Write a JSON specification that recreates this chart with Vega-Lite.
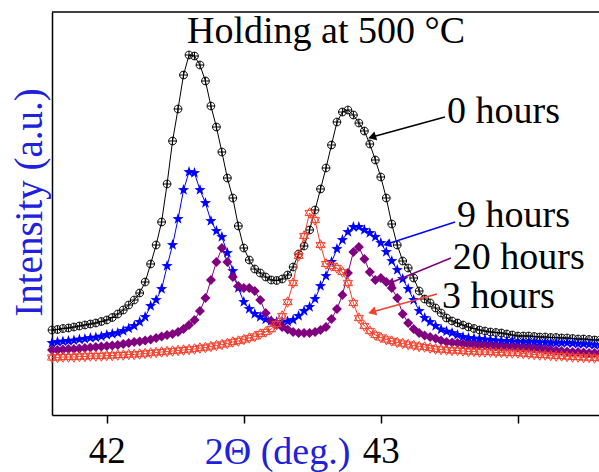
{
"$schema":"https://vega.github.io/schema/vega-lite/v6.json",
"width":548,"height":403,
"autosize":{"type":"none"},
"padding":{"left":52,"top":12,"right":0,"bottom":57},
"background":"white",
"config":{
 "view":{"stroke":null},
 "font":"Liberation Serif",
 "axisX":{"domainColor":"black","domainWidth":1.5,"tickColor":"black","tickWidth":1.5,"tickSize":8,"grid":false,"labelFont":"Liberation Serif","labelFontSize":37,"labelColor":"black","labelBaseline":"alphabetic","labelPadding":39,"labelFlush":false,"titleFont":"Liberation Serif","titleFontSize":38,"titleFontWeight":"normal","titleColor":"#2020dd","titleX":225,"titleY":48,"titleBaseline":"alphabetic","titleAlign":"center"},
 "axisY":{"domainColor":"black","domainWidth":1.5,"ticks":false,"labels":false,"grid":false,"titleFont":"Liberation Serif","titleFontSize":39,"titleFontWeight":"normal","titleColor":"#2020dd","titleX":-11,"titleY":190,"titleAngle":270,"titleBaseline":"alphabetic","titleAlign":"center"}
},
"datasets":{
"xrd":[
{"x":41.80,"0 hours":85,"3 hours":57.5,"9 hours":72,"20 hours":65},
{"x":41.82,"0 hours":85.5,"3 hours":57.5,"9 hours":73,"20 hours":65},
{"x":41.84,"0 hours":86.5,"3 hours":58,"9 hours":73.5,"20 hours":65.5},
{"x":41.86,"0 hours":87,"3 hours":58,"9 hours":74,"20 hours":66},
{"x":41.88,"0 hours":88,"3 hours":58,"9 hours":74.5,"20 hours":66},
{"x":41.90,"0 hours":89,"3 hours":58.5,"9 hours":75.5,"20 hours":66.5},
{"x":41.92,"0 hours":90,"3 hours":58.5,"9 hours":76,"20 hours":67},
{"x":41.94,"0 hours":91,"3 hours":59,"9 hours":77,"20 hours":67.5},
{"x":41.96,"0 hours":92,"3 hours":59,"9 hours":77.5,"20 hours":68},
{"x":41.98,"0 hours":93.5,"3 hours":59,"9 hours":78.5,"20 hours":68.5},
{"x":42.00,"0 hours":95,"3 hours":59.5,"9 hours":80,"20 hours":69},
{"x":42.02,"0 hours":97.5,"3 hours":59.5,"9 hours":81,"20 hours":69.5},
{"x":42.04,"0 hours":101,"3 hours":60,"9 hours":82,"20 hours":70},
{"x":42.06,"0 hours":105,"3 hours":60,"9 hours":84,"20 hours":71},
{"x":42.08,"0 hours":110,"3 hours":60.5,"9 hours":86.5,"20 hours":72},
{"x":42.10,"0 hours":115,"3 hours":60.5,"9 hours":89,"20 hours":73},
{"x":42.12,"0 hours":122,"3 hours":61,"9 hours":93,"20 hours":73.5},
{"x":42.14,"0 hours":133,"3 hours":61.5,"9 hours":98,"20 hours":74.5},
{"x":42.16,"0 hours":151,"3 hours":62,"9 hours":109,"20 hours":75.5},
{"x":42.18,"0 hours":170,"3 hours":62.5,"9 hours":115,"20 hours":77},
{"x":42.20,"0 hours":193,"3 hours":63,"9 hours":126,"20 hours":78.5},
{"x":42.22,"0 hours":231,"3 hours":63.5,"9 hours":149,"20 hours":80},
{"x":42.24,"0 hours":274,"3 hours":64,"9 hours":170,"20 hours":81},
{"x":42.26,"0 hours":306,"3 hours":64.5,"9 hours":196,"20 hours":83},
{"x":42.28,"0 hours":340,"3 hours":65,"9 hours":225,"20 hours":86},
{"x":42.30,"0 hours":360,"3 hours":65.5,"9 hours":243,"20 hours":90},
{"x":42.32,"0 hours":359,"3 hours":66,"9 hours":242,"20 hours":95},
{"x":42.34,"0 hours":350,"3 hours":67,"9 hours":225,"20 hours":104},
{"x":42.36,"0 hours":334,"3 hours":67.5,"9 hours":212,"20 hours":117},
{"x":42.38,"0 hours":309,"3 hours":68.5,"9 hours":194,"20 hours":135},
{"x":42.40,"0 hours":288,"3 hours":69.5,"9 hours":184,"20 hours":153},
{"x":42.42,"0 hours":263,"3 hours":70.5,"9 hours":178,"20 hours":167},
{"x":42.44,"0 hours":237,"3 hours":71.5,"9 hours":162,"20 hours":153},
{"x":42.46,"0 hours":217,"3 hours":73,"9 hours":144,"20 hours":138},
{"x":42.48,"0 hours":189,"3 hours":74,"9 hours":127,"20 hours":129},
{"x":42.50,"0 hours":167,"3 hours":75.5,"9 hours":113,"20 hours":127},
{"x":42.52,"0 hours":155,"3 hours":77,"9 hours":106,"20 hours":127},
{"x":42.54,"0 hours":146,"3 hours":78.5,"9 hours":101,"20 hours":124},
{"x":42.56,"0 hours":142,"3 hours":81,"9 hours":98,"20 hours":115},
{"x":42.58,"0 hours":138,"3 hours":83,"9 hours":95.5,"20 hours":102},
{"x":42.60,"0 hours":135,"3 hours":86,"9 hours":94,"20 hours":94},
{"x":42.62,"0 hours":134.5,"3 hours":91,"9 hours":93,"20 hours":90},
{"x":42.64,"0 hours":136,"3 hours":99,"9 hours":93,"20 hours":88},
{"x":42.66,"0 hours":140,"3 hours":113,"9 hours":93.5,"20 hours":85.5},
{"x":42.68,"0 hours":148,"3 hours":132,"9 hours":95,"20 hours":83},
{"x":42.70,"0 hours":161,"3 hours":159,"9 hours":99,"20 hours":82},
{"x":42.72,"0 hours":169,"3 hours":179,"9 hours":104,"20 hours":82},
{"x":42.74,"0 hours":185,"3 hours":202,"9 hours":108,"20 hours":82},
{"x":42.76,"0 hours":205,"3 hours":195,"9 hours":116,"20 hours":83},
{"x":42.78,"0 hours":226,"3 hours":170,"9 hours":129,"20 hours":85},
{"x":42.80,"0 hours":247,"3 hours":151,"9 hours":139,"20 hours":88},
{"x":42.82,"0 hours":270,"3 hours":149,"9 hours":153,"20 hours":96},
{"x":42.84,"0 hours":293,"3 hours":147,"9 hours":166,"20 hours":106},
{"x":42.86,"0 hours":303,"3 hours":143,"9 hours":175,"20 hours":120},
{"x":42.88,"0 hours":305,"3 hours":132,"9 hours":183,"20 hours":142},
{"x":42.90,"0 hours":300,"3 hours":112,"9 hours":188,"20 hours":163},
{"x":42.92,"0 hours":292,"3 hours":97,"9 hours":188,"20 hours":168},
{"x":42.94,"0 hours":284,"3 hours":89,"9 hours":185,"20 hours":156},
{"x":42.96,"0 hours":271,"3 hours":84,"9 hours":182,"20 hours":143},
{"x":42.98,"0 hours":255,"3 hours":80,"9 hours":178,"20 hours":135},
{"x":43.00,"0 hours":238,"3 hours":77.5,"9 hours":172,"20 hours":137},
{"x":43.02,"0 hours":217,"3 hours":75.5,"9 hours":163,"20 hours":133},
{"x":43.04,"0 hours":191,"3 hours":74,"9 hours":154,"20 hours":127},
{"x":43.06,"0 hours":170,"3 hours":72.5,"9 hours":145,"20 hours":117},
{"x":43.08,"0 hours":154,"3 hours":71.5,"9 hours":136,"20 hours":101},
{"x":43.10,"0 hours":147,"3 hours":70.5,"9 hours":126,"20 hours":92},
{"x":43.12,"0 hours":137,"3 hours":69.5,"9 hours":115,"20 hours":86},
{"x":43.14,"0 hours":124,"3 hours":68.5,"9 hours":104,"20 hours":82},
{"x":43.16,"0 hours":116,"3 hours":68,"9 hours":97,"20 hours":79.5},
{"x":43.18,"0 hours":112,"3 hours":67,"9 hours":93,"20 hours":78},
{"x":43.20,"0 hours":107,"3 hours":66,"9 hours":89,"20 hours":76.5},
{"x":43.22,"0 hours":102,"3 hours":65.5,"9 hours":85.5,"20 hours":74.5},
{"x":43.24,"0 hours":97,"3 hours":65,"9 hours":83.5,"20 hours":73},
{"x":43.26,"0 hours":94,"3 hours":64.5,"9 hours":82,"20 hours":72.5},
{"x":43.28,"0 hours":92,"3 hours":64.5,"9 hours":80,"20 hours":72},
{"x":43.30,"0 hours":90,"3 hours":64,"9 hours":78,"20 hours":71},
{"x":43.32,"0 hours":88,"3 hours":63.5,"9 hours":77,"20 hours":70.5},
{"x":43.34,"0 hours":86.5,"3 hours":63.5,"9 hours":76.5,"20 hours":70},
{"x":43.36,"0 hours":85,"3 hours":63,"9 hours":76,"20 hours":69.5},
{"x":43.38,"0 hours":84,"3 hours":63,"9 hours":75.5,"20 hours":69.5},
{"x":43.40,"0 hours":83,"3 hours":63,"9 hours":75,"20 hours":69},
{"x":43.42,"0 hours":82.5,"3 hours":62.5,"9 hours":74.5,"20 hours":68.5},
{"x":43.44,"0 hours":82,"3 hours":62.5,"9 hours":74,"20 hours":68},
{"x":43.46,"0 hours":81,"3 hours":62,"9 hours":74,"20 hours":68},
{"x":43.48,"0 hours":80,"3 hours":62,"9 hours":73.5,"20 hours":68},
{"x":43.50,"0 hours":79,"3 hours":62,"9 hours":73,"20 hours":67.5},
{"x":43.52,"0 hours":79,"3 hours":61.5,"9 hours":73,"20 hours":67},
{"x":43.54,"0 hours":79,"3 hours":61,"9 hours":73,"20 hours":67},
{"x":43.56,"0 hours":78.5,"3 hours":60.5,"9 hours":73,"20 hours":66.5},
{"x":43.58,"0 hours":78,"3 hours":60,"9 hours":72.5,"20 hours":66},
{"x":43.60,"0 hours":78,"3 hours":60,"9 hours":72.5,"20 hours":65.5},
{"x":43.62,"0 hours":77.5,"3 hours":59.5,"9 hours":72,"20 hours":65},
{"x":43.64,"0 hours":77.5,"3 hours":59,"9 hours":72,"20 hours":64.5},
{"x":43.66,"0 hours":77,"3 hours":59,"9 hours":72,"20 hours":64},
{"x":43.68,"0 hours":77,"3 hours":58.5,"9 hours":72,"20 hours":63.5},
{"x":43.70,"0 hours":76.5,"3 hours":58,"9 hours":71.5,"20 hours":63},
{"x":43.72,"0 hours":76,"3 hours":58,"9 hours":71,"20 hours":63},
{"x":43.74,"0 hours":76,"3 hours":57.5,"9 hours":71,"20 hours":62.5},
{"x":43.76,"0 hours":75.5,"3 hours":57.5,"9 hours":70.5,"20 hours":62},
{"x":43.78,"0 hours":75,"3 hours":57,"9 hours":70,"20 hours":62},
{"x":43.80,"0 hours":75,"3 hours":57,"9 hours":70,"20 hours":62}
],
"notes":[
{"t":"0 hours","series":"0 hours","tx":43.242,"ty":292,"x1":43.234,"y1":298,"x2":42.968,"y2":278},
{"t":"9 hours","series":"9 hours","tx":43.278,"ty":188,"x1":43.271,"y1":193,"x2":43.023,"y2":171},
{"t":"20 hours","series":"20 hours","tx":43.263,"ty":146,"x1":43.256,"y1":157,"x2":43.034,"y2":132},
{"t":"3 hours","series":"3 hours","tx":43.223,"ty":107,"x1":43.205,"y1":121,"x2":42.968,"y2":103}
]
},
"layer":[
{"data":{"name":"xrd"},
 "transform":[{"fold":["0 hours","3 hours","9 hours","20 hours"],"as":["series","I"]},{"filter":"datum.series === '0 hours'"}],
 "mark":{"type":"line","strokeWidth":1},
 "encoding":{
  "x":{"field":"x","type":"quantitative","title":"2Θ (deg.)","scale":{"domain":[41.8,43.8],"nice":false,"zero":false},"axis":{"values":[42,42.5,43,43.5],"labelExpr":"datum.value % 1 ? '' : '' + datum.value"}},
  "y":{"field":"I","type":"quantitative","title":"Intensity (a.u.)","scale":{"domain":[0,403],"nice":false,"zero":false}},
  "color":{"field":"series","type":"nominal","scale":{"domain":["0 hours","3 hours","9 hours","20 hours"],"range":["#000000","#f5402c","#0000ff","#800080"]},"legend":null}}},
{"data":{"name":"xrd"},
 "transform":[{"fold":["0 hours","3 hours","9 hours","20 hours"],"as":["series","I"]},{"filter":"datum.series === '0 hours'"}],
 "mark":{"type":"point","shape":"M1,0L0.924,0.383L0.707,0.707L0.383,0.924L0,1L-0.383,0.924L-0.707,0.707L-0.924,0.383L-1,0L-0.924,-0.383L-0.707,-0.707L-0.383,-0.924L0,-1L0.383,-0.924L0.707,-0.707L0.924,-0.383ZM-1,0L1,0M0,-1L0,1","filled":false,"size":60,"strokeWidth":1,"opacity":1},
 "encoding":{"x":{"field":"x","type":"quantitative","title":"2Θ (deg.)"},"y":{"field":"I","type":"quantitative","title":"Intensity (a.u.)"},"color":{"field":"series","type":"nominal","legend":null}}},
{"data":{"name":"xrd"},
 "transform":[{"fold":["0 hours","3 hours","9 hours","20 hours"],"as":["series","I"]},{"filter":"datum.series === '9 hours'"}],
 "mark":{"type":"line","strokeWidth":1},
 "encoding":{"x":{"field":"x","type":"quantitative","title":"2Θ (deg.)"},"y":{"field":"I","type":"quantitative","title":"Intensity (a.u.)"},"color":{"field":"series","type":"nominal","legend":null}}},
{"data":{"name":"xrd"},
 "transform":[{"fold":["0 hours","3 hours","9 hours","20 hours"],"as":["series","I"]},{"filter":"datum.series === '9 hours'"}],
 "mark":{"type":"point","shape":"M0,-1L0.235,-0.324L0.951,-0.309L0.38,0.124L0.588,0.809L0,0.4L-0.588,0.809L-0.38,0.124L-0.951,-0.309L-0.235,-0.324Z","filled":true,"size":140,"opacity":1},
 "encoding":{"x":{"field":"x","type":"quantitative","title":"2Θ (deg.)"},"y":{"field":"I","type":"quantitative","title":"Intensity (a.u.)"},"color":{"field":"series","type":"nominal","legend":null}}},
{"data":{"name":"xrd"},
 "transform":[{"fold":["0 hours","3 hours","9 hours","20 hours"],"as":["series","I"]},{"filter":"datum.series === '20 hours'"}],
 "mark":{"type":"line","strokeWidth":1},
 "encoding":{"x":{"field":"x","type":"quantitative","title":"2Θ (deg.)"},"y":{"field":"I","type":"quantitative","title":"Intensity (a.u.)"},"color":{"field":"series","type":"nominal","legend":null}}},
{"data":{"name":"xrd"},
 "transform":[{"fold":["0 hours","3 hours","9 hours","20 hours"],"as":["series","I"]},{"filter":"datum.series === '20 hours'"}],
 "mark":{"type":"point","shape":"diamond","filled":true,"size":100,"opacity":1},
 "encoding":{"x":{"field":"x","type":"quantitative","title":"2Θ (deg.)"},"y":{"field":"I","type":"quantitative","title":"Intensity (a.u.)"},"color":{"field":"series","type":"nominal","legend":null}}},
{"data":{"name":"xrd"},
 "transform":[{"fold":["0 hours","3 hours","9 hours","20 hours"],"as":["series","I"]},{"filter":"datum.series === '3 hours'"}],
 "mark":{"type":"line","strokeWidth":1},
 "encoding":{"x":{"field":"x","type":"quantitative","title":"2Θ (deg.)"},"y":{"field":"I","type":"quantitative","title":"Intensity (a.u.)"},"color":{"field":"series","type":"nominal","legend":null}}},
{"data":{"name":"xrd"},
 "transform":[{"fold":["0 hours","3 hours","9 hours","20 hours"],"as":["series","I"]},{"filter":"datum.series === '3 hours'"}],
 "mark":{"type":"point","shape":"M0,-1L0.866,0.5L-0.866,0.5ZM0,1L0.866,-0.5L-0.866,-0.5Z","filled":false,"size":110,"strokeWidth":1,"opacity":1},
 "encoding":{"x":{"field":"x","type":"quantitative","title":"2Θ (deg.)"},"y":{"field":"I","type":"quantitative","title":"Intensity (a.u.)"},"color":{"field":"series","type":"nominal","legend":null}}},
{"data":{"values":[{"v":403}]},
 "mark":{"type":"rule","color":"black","strokeWidth":1.5},
 "encoding":{"y":{"field":"v","type":"quantitative","title":"Intensity (a.u.)"}}},
{"data":{"name":"notes"},
 "mark":{"type":"rule","strokeWidth":1.5},
 "encoding":{"x":{"field":"x1","type":"quantitative","title":"2Θ (deg.)"},"x2":{"field":"x2"},"y":{"field":"y1","type":"quantitative","title":"Intensity (a.u.)"},"y2":{"field":"y2"},"color":{"field":"series","type":"nominal","legend":null}}},
{"data":{"name":"notes"},
 "mark":{"type":"point","shape":"triangle-up","filled":true,"size":85,"angle":252,"opacity":1},
 "encoding":{"x":{"field":"x2","type":"quantitative","title":"2Θ (deg.)"},"y":{"field":"y2","type":"quantitative","title":"Intensity (a.u.)"},"color":{"field":"series","type":"nominal","legend":null}}},
{"data":{"name":"notes"},
 "mark":{"type":"text","align":"left","baseline":"alphabetic","font":"Liberation Serif","fontSize":38,"color":"black"},
 "encoding":{"x":{"field":"tx","type":"quantitative","title":"2Θ (deg.)"},"y":{"field":"ty","type":"quantitative","title":"Intensity (a.u.)"},"text":{"field":"t"}}},
{"data":{"values":[{"t":"Holding at 500 °C","tx":42.8,"ty":372}]},
 "mark":{"type":"text","align":"center","baseline":"alphabetic","font":"Liberation Serif","fontSize":38,"color":"black"},
 "encoding":{"x":{"field":"tx","type":"quantitative","title":"2Θ (deg.)"},"y":{"field":"ty","type":"quantitative","title":"Intensity (a.u.)"},"text":{"field":"t"}}}
]
}
